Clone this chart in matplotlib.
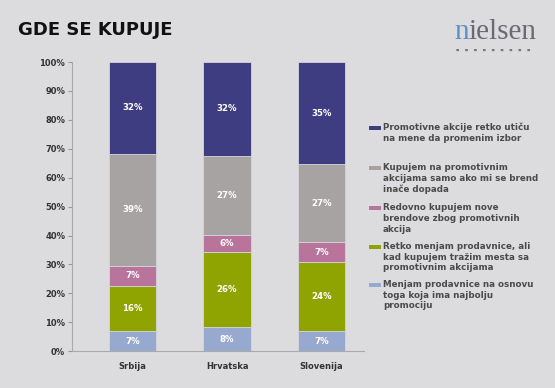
import matplotlib.pyplot as plt
from matplotlib.patches import Rectangle
import numpy as np

# podaci (procenti, ocitani sa slike)
zemlje = ['Srbija', 'Hrvatska', 'Slovenija']
menjam_prod = [6.8, 8.2, 7.0]
retko_menjam = [15.8, 26.2, 23.8]
redovno_nove = [6.9, 5.8, 6.9]
samo_brend = [38.8, 27.4, 26.9]
retko_uticu = [31.7, 32.4, 35.4]

serije = [menjam_prod, retko_menjam, redovno_nove, samo_brend, retko_uticu]
boje = ['#98a9cf', '#8fa400', '#b9749b', '#a8a3a3', '#3f3d82']
nazivi = ['Menjam prodavnice na osnovu\ntoga koja ima najbolju\npromociju',
          'Retko menjam prodavnice, ali\nkad kupujem tražim mesta sa\npromotivnim akcijama',
          'Redovno kupujem nove\nbrendove zbog promotivnih\nakcija',
          'Kupujem na promotivnim\nakcijama samo ako mi se brend\ninače dopada',
          'Promotivne akcije retko utiču\nna mene da promenim izbor']

W, H = 555, 388
bg = '#dcdcde'
fig = plt.figure(figsize=(W / 100, H / 100), dpi=100, facecolor=bg)
ax = fig.add_axes([0.13, 0.095, 0.526, 0.745], facecolor=bg)

x = np.arange(len(zemlje))
dno = np.zeros(len(zemlje))
for vals, c in zip(serije, boje):
    vals = np.array(vals)
    ax.bar(x, vals, 0.5, bottom=dno, color=c, edgecolor='#d4d4dc', linewidth=0.6)
    for xi, b, v in zip(x, dno, vals):
        ax.text(xi, b + v / 2, f'{round(v):.0f}%', ha='center', va='center',
                color='white', fontsize=6.2, fontweight='bold')
    dno += vals

ax.set_xlim(-0.64, 2.45)
ax.set_ylim(0, 100)
ax.set_yticks(range(0, 101, 10))
ax.set_yticklabels([f'{v}%' for v in range(0, 101, 10)], fontsize=6,
                   fontweight='bold', color='#333333')
ax.set_xticks(x)
ax.set_xticklabels(zemlje, fontsize=6, fontweight='bold', color='#333333')
ax.tick_params(axis='x', length=0, pad=8)
ax.tick_params(axis='y', length=3, color='#999999', pad=2)
for s in ['top', 'right']:
    ax.spines[s].set_visible(False)
for s in ['left', 'bottom']:
    ax.spines[s].set_color('#aaaaaa')

# legenda (rucno, kao u originalu)
leg_y = [128, 168, 208, 247, 285]
for yy, c, t in zip(leg_y, boje[::-1], nazivi[::-1]):
    fig.patches.append(Rectangle((369 / W, 1 - (yy + 2) / H), 12 / W, 4 / H,
                                 transform=fig.transFigure, facecolor=c, edgecolor='none'))
    fig.text(383 / W, 1 - (yy - 5) / H, t, fontsize=6.3, fontweight='bold',
             color='#4a4a4a', va='top', ha='left', linespacing=1.25)

# naslov i logo
fig.text(18 / W, 1 - 30 / H, 'GDE SE KUPUJE', fontsize=13, fontweight='bold',
         color='#111111', va='center')
tn = fig.text(454 / W, 1 - 32 / H, 'n', fontsize=21, color='#5b8fc9',
              family='Liberation Serif', va='center')
fig.canvas.draw()
bb = tn.get_window_extent().transformed(fig.transFigure.inverted())
fig.text(bb.x1, 1 - 32 / H, 'ielsen', fontsize=21, color='#6a6a72',
         family='Liberation Serif', va='center')
fig.text(456 / W, 1 - 50 / H, '■     ■     ■     ■     ■     ■     ■     ■     ■',
         fontsize=2.5, color='#777777', va='center')

plt.savefig('out.png', dpi=100, facecolor=bg)
